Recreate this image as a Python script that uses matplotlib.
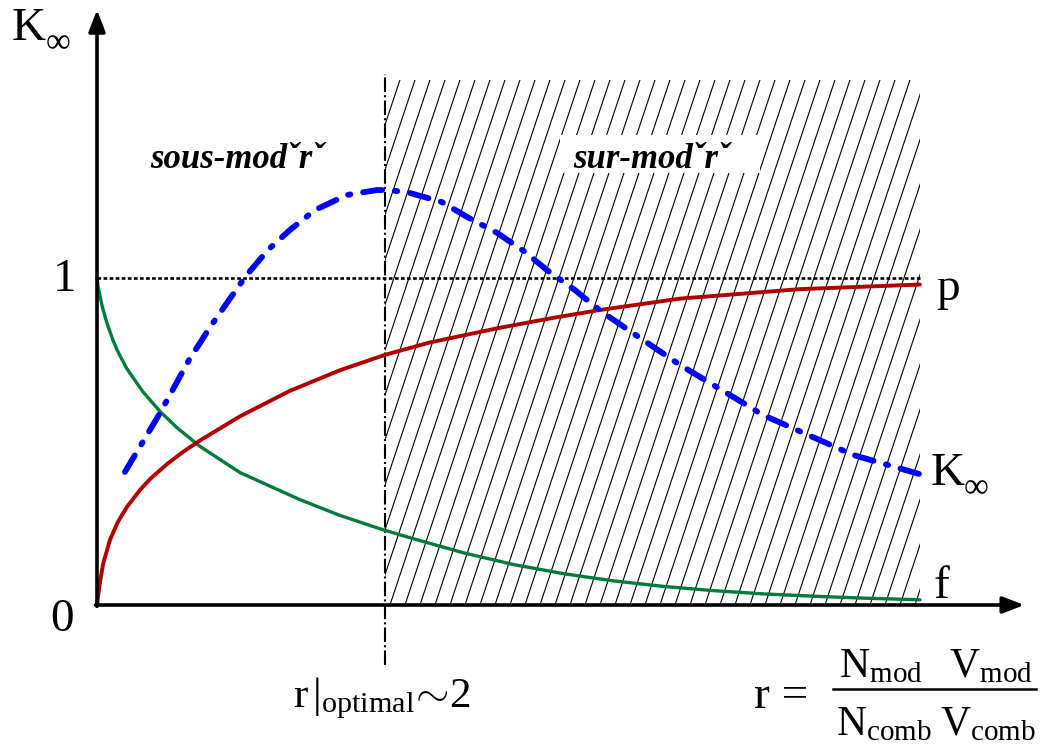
import numpy as np
import matplotlib.pyplot as plt
from matplotlib.patches import Rectangle
from matplotlib.collections import LineCollection

plt.rcParams['font.family'] = ['Liberation Serif', 'DejaVu Serif']
plt.rcParams['mathtext.fontset'] = 'custom'
plt.rcParams['mathtext.rm'] = 'Liberation Serif'
plt.rcParams['mathtext.it'] = 'Liberation Serif:italic'

# data (r, value)
r_f = [0.0, 0.007, 0.035, 0.069, 0.111, 0.139, 0.208, 0.319, 0.4375, 0.556,
       0.715, 0.993, 1.41, 1.6875, 1.965, 2.194, 2.542, 2.889, 3.236, 3.583,
       3.931, 4.278, 4.625, 4.972, 5.319, 5.715]
f_val = [1.0, 0.975, 0.915, 0.862, 0.810, 0.780, 0.722, 0.652, 0.592, 0.542,
         0.485, 0.405, 0.322, 0.274, 0.233, 0.203, 0.160, 0.124, 0.096, 0.074,
         0.057, 0.044, 0.034, 0.027, 0.021, 0.016]

r_p = [0.0, 0.007, 0.021, 0.042, 0.090, 0.146, 0.208, 0.299, 0.368, 0.486,
       0.597, 0.715, 0.993, 1.340, 1.6875, 2.0, 2.3125, 2.80, 3.167, 3.49,
       4.049, 4.882, 5.715]
p_val = [0.0, 0.025, 0.070, 0.125, 0.199, 0.255, 0.300, 0.352, 0.385, 0.431,
         0.468, 0.503, 0.577, 0.655, 0.718, 0.765, 0.803, 0.848, 0.878, 0.902,
         0.937, 0.966, 0.980]

r_k = [0.194, 0.4375, 0.646, 0.715, 0.785, 0.903, 1.028, 1.1875, 1.340, 1.514,
       1.736, 1.944, 2.035, 2.174, 2.396, 2.569, 2.778, 2.972, 3.125, 3.319,
       3.507, 3.771, 4.049, 4.340, 4.625, 4.938, 5.25, 5.715]
k_val = [0.407, 0.587, 0.755, 0.801, 0.850, 0.924, 1.003, 1.086, 1.147, 1.208,
         1.254, 1.269, 1.269, 1.260, 1.232, 1.187, 1.138, 1.080, 1.024, 0.963,
         0.896, 0.817, 0.734, 0.657, 0.581, 0.520, 0.459, 0.400]

r_opt = 2.0
r_max = 5.715
hatch_top = 1.606

fig = plt.figure(figsize=(10.43, 7.46), dpi=100)
ax = fig.add_axes([0, 0, 1, 1])
ax.set_xlim(-97 / 144, 946 / 144)
ax.set_ylim(-141 / 327, 605 / 327)
ax.axis('off')

# hatched "sur-modere" zone
rect = Rectangle((r_opt, 0), r_max - r_opt, hatch_top, fill=False, lw=0)
ax.add_patch(rect)
slope = 3.0 * 144 / 327
dx = hatch_top / slope
starts = np.arange(r_opt - dx, r_max + 0.01, 15 / 144)
segs = [[(x0, 0), (x0 + dx, hatch_top)] for x0 in starts]
hatch = LineCollection(segs, colors='black', linewidths=0.8)
ax.add_collection(hatch)
hatch.set_clip_path(rect)

# white box behind the "sur-modere" label
ax.add_patch(Rectangle((3.215, 1.321), 1.389, 0.116, facecolor='white',
                       edgecolor='none', zorder=2))

# reference lines
ax.plot([0, r_max], [1, 1], color='black', lw=1.9, ls=(0, (1.4, 0.9)))
ax.plot([r_opt, r_opt], [-0.183, 1.625], color='black', lw=1.5,
        ls=(0, (7, 1.5, 1, 1.5)))

# curves
ax.plot(r_f, f_val, color='#007a3d', lw=2.4, solid_capstyle='round',
        solid_joinstyle='round', zorder=3)
ax.plot(r_p, p_val, color='#b00000', lw=2.8, solid_capstyle='round',
        solid_joinstyle='round', zorder=3)
ax.plot(r_k, k_val, color='#0000ff', lw=4.2, ls=(0, (3.3, 2.2, 0.4, 2.2)),
        dash_capstyle='round', zorder=3)

# axes with arrows
arrow = dict(arrowstyle='-|>,head_length=1.3,head_width=0.5', lw=2.6,
             color='black', shrinkA=0, shrinkB=0)
ax.annotate('', xy=(0, 1.82), xytext=(0, -0.004), arrowprops=arrow)
ax.annotate('', xy=(6.44, 0), xytext=(-0.01, 0), arrowprops=arrow)

big = 34


def k_inf(x, y):
    ax.text(x, y, 'K', fontsize=big, va='baseline')
    ax.annotate('∞', xy=(x, y), xytext=(24, -9), textcoords='offset points',
                fontsize=25, va='baseline')


k_inf(-0.59, 1.728)
k_inf(5.79, 0.367)
ax.text(-0.222, 0.994, '1', fontsize=big, ha='center', va='center')
ax.text(-0.243, -0.046, '0', fontsize=big, ha='center', va='center')
ax.text(5.83, 0.933, 'p', fontsize=big, va='baseline')
ax.text(5.81, 0.021, 'f', fontsize=big, va='baseline')

ax.text(0.972, 1.361, 'sous-modˇrˇ', fontsize=25, fontweight='bold',
        fontstyle='italic', ha='center', va='center')
ax.text(3.847, 1.361, 'sur-modˇrˇ', fontsize=25, fontweight='bold',
        fontstyle='italic', ha='center', va='center', zorder=4)

ax.text(1.36, -0.312, r'$\mathrm{r}\,|_{\mathrm{optimal}}\!\sim\!2$',
        fontsize=31, va='baseline')

# r = (N_mod V_mod) / (N_comb V_comb)
frac = 30
ax.text(4.56, -0.315, 'r =', fontsize=big, va='baseline')
ax.text(5.444, -0.222, r'$\mathrm{N_{mod}}$', fontsize=frac, ha='center',
        va='baseline')
ax.text(6.208, -0.222, r'$\mathrm{V_{mod}}$', fontsize=frac, ha='center',
        va='baseline')
ax.text(5.465, -0.398, r'$\mathrm{N_{comb}}$', fontsize=frac, ha='center',
        va='baseline')
ax.text(6.188, -0.398, r'$\mathrm{V_{comb}}$', fontsize=frac, ha='center',
        va='baseline')
ax.plot([5.111, 6.521], [-0.257, -0.257], color='black', lw=1.8)

plt.savefig('out.png', dpi=100)
